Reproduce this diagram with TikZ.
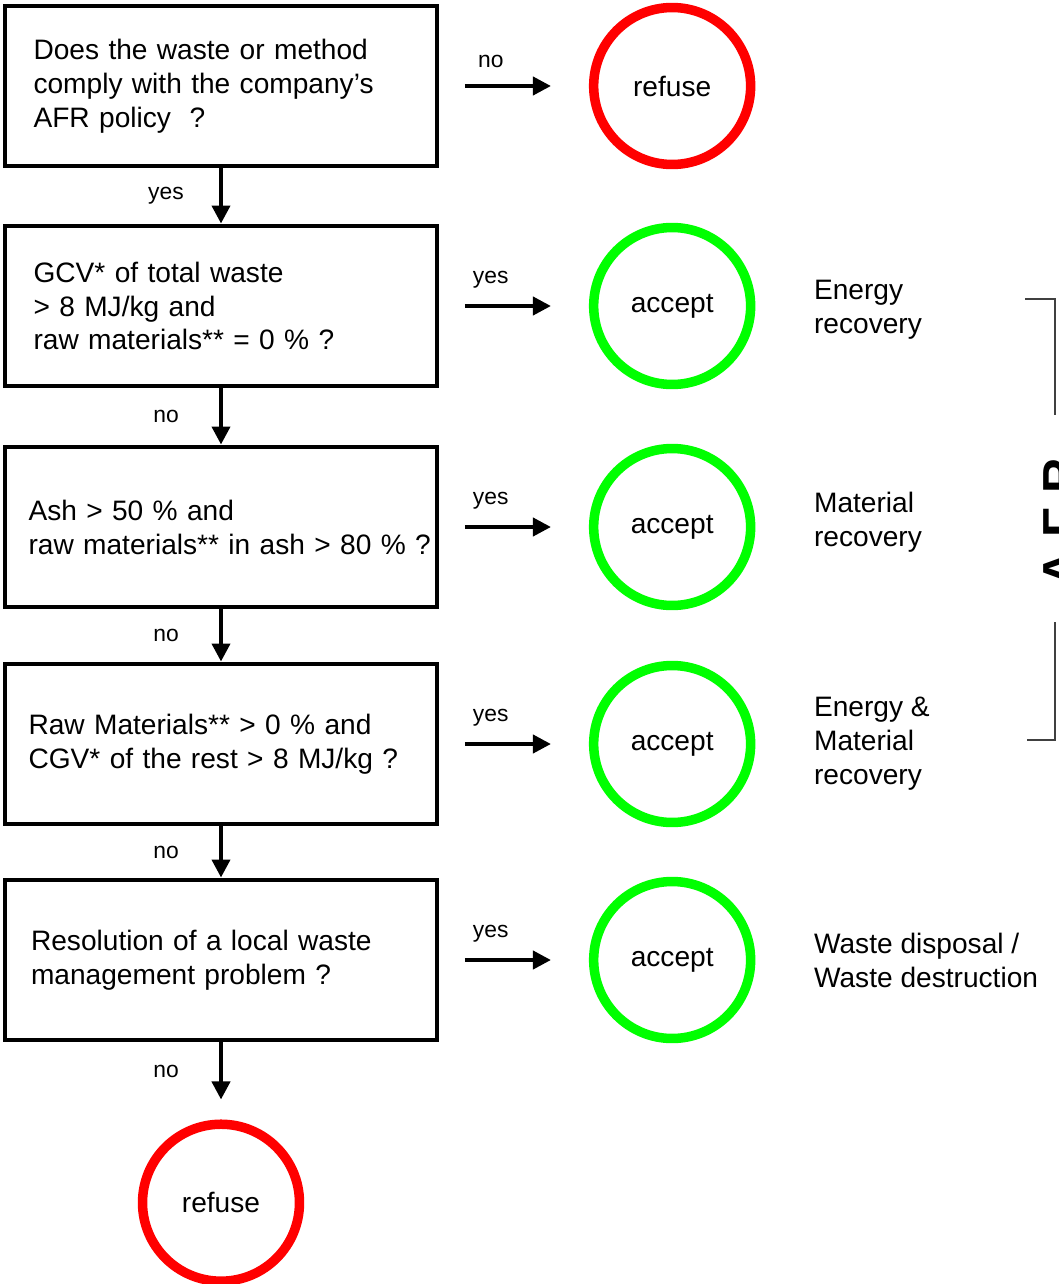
\documentclass[tikz,border=0pt]{standalone}
\usepackage{fontspec}
\setmainfont{Liberation Sans}
\usepackage{xcolor}
\usetikzlibrary{positioning,arrows.meta}

\definecolor{refusered}{RGB}{255,0,0}
\definecolor{acceptgreen}{RGB}{0,255,0}

\begin{document}
\begin{tikzpicture}[x=0.02cm, y=-0.02cm, node distance=1.5cm,
  qbox/.style={draw, line width=0.08cm, minimum width=8.64cm, minimum height=3.22cm,
    text width=7.7cm, inner xsep=0.47cm, align=left, font=\fontsize{16}{19.3}\selectfont},
  endcirc/.style={circle, draw, line width=0.19cm, minimum size=3.14cm, inner sep=0pt,
    font=\fontsize{16}{19.3}\selectfont},
  refusec/.style={endcirc, draw=refusered},
  acceptc/.style={endcirc, draw=acceptgreen},
  outcome/.style={align=left, font=\fontsize{16}{19.3}\selectfont},
  flow/.style={line width=0.08cm, -{Triangle[length=0.36cm, width=0.36cm]}},
  vlbl/.style={midway, xshift=-1.1cm, font=\fontsize{13}{15}\selectfont},
  hlbl/.style={pos=0.3, above=0.2cm, font=\fontsize{13}{15}\selectfont},
  brk/.style={draw=black!75, line width=0.6pt}]

\clip (0,0) rectangle (1058,1284);

% questions
\node[qbox, text width=7.5cm, inner xsep=0.57cm] (q1) at (221,86) {Does the waste or method\\comply with the company’s\\AFR policy \ ?};
\node[qbox, text width=7.5cm, inner xsep=0.57cm] (q2) at (221,306) {GCV* of total waste\\> 8 MJ/kg and\\raw materials** = 0 \% ?};
\node[qbox] (q3) at (221,527) {Ash > 50 \% and\\\mbox{raw materials** in ash > 80 \% ?}};
\node[qbox] (q4) at (221,744) {Raw Materials** > 0 \% and\\CGV* of the rest > 8 MJ/kg ?};
\node[qbox, text width=7.6cm, inner xsep=0.52cm] (q5) at (221,960) {Resolution of a local waste\\management problem ?};

% decisions
\node[refusec, right=3.0cm of q1] (r1) {refuse};
\node[acceptc, right=3.0cm of q2] (a1) {accept};
\node[acceptc, right=3.0cm of q3] (a2) {accept};
\node[acceptc, right=3.0cm of q4] (a3) {accept};
\node[acceptc, right=3.0cm of q5] (a4) {accept};
\node[refusec, below=1.54cm of q5] (r2) {refuse};

% kinds of recovery
\node[outcome, right=1.05cm of a1, yshift=-0.08cm] (o1) {Energy\\recovery};
\node[outcome, right=1.05cm of a2, yshift=0.1cm] (o2) {Material\\recovery};
\node[outcome, right=1.05cm of a3] (o3) {Energy \&\\Material\\recovery};
\node[outcome, right=1.05cm of a4] (o4) {Waste disposal /\\Waste destruction};

% AFR bracket
\node[rotate=90, anchor=north, inner sep=0pt, font=\fontsize{28}{30}\selectfont\bfseries] (afr) at (1043,522) {A F R};
\draw[brk] (1025,299) -- (1055,299) -- (1055,415);
\draw[brk] (1055,622) -- (1055,740) -- (1027,740);

% arrow ends
\coordinate (q1 out) at ([xshift=0.52cm]q1.east);
\coordinate (q2 out) at ([xshift=0.52cm]q2.east);
\coordinate (q3 out) at ([xshift=0.52cm]q3.east);
\coordinate (q4 out) at ([xshift=0.52cm]q4.east);
\coordinate (q5 out) at ([xshift=0.52cm]q5.east);
\coordinate (r1 in) at ([xshift=-0.76cm]r1.west);
\coordinate (a1 in) at ([xshift=-0.76cm]a1.west);
\coordinate (a2 in) at ([xshift=-0.76cm]a2.west);
\coordinate (a3 in) at ([xshift=-0.76cm]a3.west);
\coordinate (a4 in) at ([xshift=-0.76cm]a4.west);
\coordinate (r2 in) at ([yshift=0.4cm]r2.north);

\path[flow]
(q1) edge node[vlbl] {yes} (q2)
(q2) edge node[vlbl] {no} (q3)
(q3) edge node[vlbl] {no} (q4)
(q4) edge node[vlbl] {no} (q5)
(q5.south) edge node[vlbl] {no} (r2 in)
(q1 out) edge node[hlbl] {no} (r1 in)
(q2 out) edge node[hlbl] {yes} (a1 in)
(q3 out) edge node[hlbl] {yes} (a2 in)
(q4 out) edge node[hlbl] {yes} (a3 in)
(q5 out) edge node[hlbl] {yes} (a4 in);
\end{tikzpicture}
\end{document}
